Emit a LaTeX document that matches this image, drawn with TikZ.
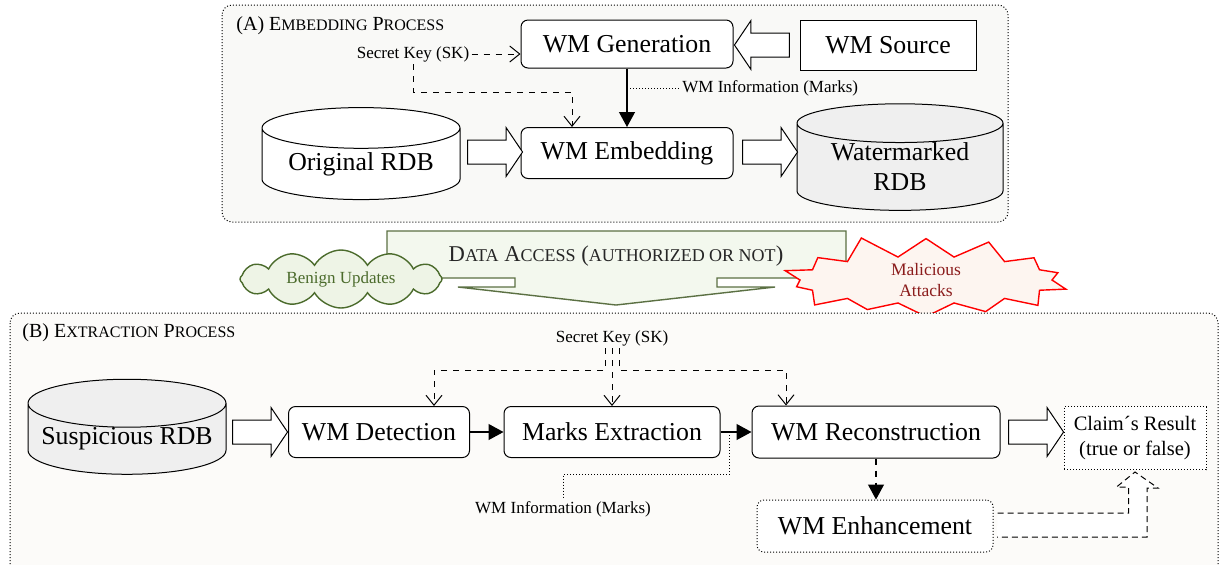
\documentclass[tikz,border=0pt]{standalone}
\usepackage{fontspec}
\setmainfont{Liberation Serif}
\usetikzlibrary{shapes,arrows.meta,positioning,calc}

\definecolor{panelA}{HTML}{F9F9F7}
\definecolor{panelB}{HTML}{FCFBF9}
\definecolor{dbgray}{HTML}{EFEFEF}
\definecolor{accessfill}{HTML}{F3F8EE}
\definecolor{accessline}{HTML}{5B7043}
\definecolor{cloudfill}{HTML}{EEF4E6}
\definecolor{cloudline}{HTML}{4B6B2C}
\definecolor{burstfill}{HTML}{FDF5F0}
\definecolor{bursttext}{HTML}{8B1C1C}

\newcommand{\mainsz}{\fontsize{12.9}{15}\selectfont}
\newcommand{\keysz}{\fontsize{8.5}{10}\selectfont}
\newcommand{\fakesc}[2]{{\fontsize{#1}{#1}\selectfont #2}}

\tikzset{
  box/.style={draw, rounded corners=3.5pt, fill=white, line width=0.5pt, font=\mainsz},
  db/.style={cylinder, shape border rotate=90, aspect=0.28, draw, fill=white,
    line width=0.5pt, minimum width=99pt, minimum height=46pt, inner sep=0pt, font=\mainsz},
  hollow/.style={single arrow, draw, fill=white, line width=0.5pt, inner xsep=0pt,
    inner ysep=5.75pt, single arrow head extend=6.25pt, single arrow tip angle=112,
    minimum height=27.5pt},
  panel/.style={draw, densely dotted, rounded corners=5pt, line width=0.5pt},
  keytxt/.style={font=\keysz, inner sep=1pt},
  keyline/.style={dashed, line width=0.5pt, -{Straight Barb[length=5pt,width=8pt]}},
  flow/.style={line width=0.6pt, -{Triangle[length=7.5pt,width=8pt]}},
  infoline/.style={densely dotted, line width=0.5pt}
}

\begin{document}
\begin{tikzpicture}[x=0.5pt, y=-0.5pt]
\useasboundingbox (0,0) rectangle (1219,564);

% (A) embedding
\draw[panel, fill=panelA] (222,5) rectangle (1008,222);
\node[anchor=west, inner sep=0pt, font=\fontsize{10}{12}\selectfont] (titleA) at (236,26)
  {(A) E\fakesc{8}{MBEDDING} P\fakesc{8}{ROCESS}};
\node[box, minimum width=106pt, minimum height=24pt] (gen) at (627,44) {WM Generation};
\node[box, rounded corners=0pt, minimum width=88pt, minimum height=25pt] (src) at (888,45) {WM Source};
\node[keytxt] (keyA) at (413,54) {Secret Key (SK)};
\node[db] (orig) at (361,164) {Original RDB};
\node[box, minimum width=106pt, minimum height=25.5pt] (emb) at (627,153) {WM Embedding};
\node[db, fill=dbgray, align=center, minimum width=103pt, minimum height=47pt] (wmdb) at (900,167)
  {Watermarked\\RDB};
\node[hollow, shape border rotate=180] (a1) at (766,45) {};
\node[hollow] (a2) at (491,152) {};
\node[hollow] (a3) at (766,152) {};
\node[keytxt, anchor=west] (infoA) at (680,88) {WM Information (Marks)};
\coordinate (kbend) at (413,92);

\draw[keyline] (keyA.east) -- (keyA.east -| gen.west);
\draw[keyline] (keyA.south) -- (kbend) -| ([xshift=-27.5pt]emb.north);
\draw[flow] (gen) -- (emb);
\draw[infoline] (gen.south |- infoA.west) -- (infoA.west);

% data access
\draw[draw=accessline, fill=accessfill, line width=0.7pt]
  (387,231) -- (846,231) -- (846,278) -- (717,278) -- (717,287) -- (775,287)
  -- (616,305) -- (458,287) -- (515,287) -- (515,278) -- (387,278) -- cycle;
\node[text=black!85, font=\fontsize{11.3}{13}\selectfont] (access) at (616,256)
  {D\fakesc{9}{ATA} A\fakesc{9}{CCESS} (\fakesc{9}{AUTHORIZED OR NOT})};
\node[cloud, cloud puffs=12, cloud puff arc=120, cloud ignores aspect, draw=cloudline,
  fill=cloudfill, text=cloudline, line width=0.7pt, minimum width=101pt, minimum height=29pt,
  inner sep=0pt, font=\keysz] (benign) at (341,279) {Benign Updates};
\node[starburst, starburst points=14, starburst point height=12pt, random starburst=11,
  draw=red, fill=burstfill, text=bursttext, line width=0.7pt, minimum width=150pt,
  minimum height=25pt, inner sep=0pt, align=center, font=\fontsize{8.75}{10.5}\selectfont]
  (attack) at (926,280) {Malicious\\Attacks};

% (B) extraction
\draw[panel, fill=panelB] (10,313) rectangle (1218,600);
\node[anchor=west, inner sep=0pt, font=\fontsize{10}{12}\selectfont] (titleB) at (22,333)
  {(B) E\fakesc{8}{XTRACTION} P\fakesc{8}{ROCESS}};
\node[keytxt] (keyB) at (612,338) {Secret Key (SK)};
\node[db, fill=dbgray] (susp) at (127,439) {Suspicious RDB};
\node[hollow] (b1) at (256,432) {};
\node[box, minimum width=90.5pt, minimum height=25.5pt] (det) at (379,432) {WM Detection};
\node[box, minimum width=108pt, minimum height=25.5pt] (mext) at (612,432) {Marks Extraction};
\node[box, minimum width=124pt, minimum height=26pt] (rec) at (876,432) {WM Reconstruction};
\node[hollow] (b2) at (1032,432) {};
\node[draw, densely dotted, line width=0.5pt, fill=white, minimum width=71pt, minimum height=31.5pt,
  align=center, font=\fontsize{10.25}{12.5}\selectfont] (claim) at (1135,438)
  {Claim´s Result\\(true or false)};
\node[box, densely dotted, minimum width=118pt, minimum height=26pt] (enh) at (875,526) {WM Enhancement};
\node[keytxt] (infoB) at (563,509) {WM Information (Marks)};

\draw[keyline] (keyB.south) -- (mext.north);
\draw[keyline] ([xshift=-3.5pt]keyB.south) -- ++(0,22) -| ([xshift=27.5pt]det.north);
\draw[keyline] ([xshift=3.5pt]keyB.south) -- ++(0,22) -| ([xshift=-45pt]rec.north);
\draw[flow] (det) -- (mext);
\draw[flow] (mext) -- (rec);
\draw[flow, dashed] (rec.south) -- (rec.south |- enh.north);
\draw[infoline] ([xshift=4.5pt]mext.east) -- ++(0,42) -| (infoB.north);
\draw[densely dashed, line width=0.5pt, fill=white]
  ([xshift=2pt, yshift=6.5pt]enh.east) -- ++(131,0) -- ++(0,-26) -- ++(-12,0)
  -- ([yshift=-1pt]claim.south) -- ++(23,16) -- ++(-11,0) -- ++(0,49) -- ++(-150,0);
\end{tikzpicture}
\end{document}
